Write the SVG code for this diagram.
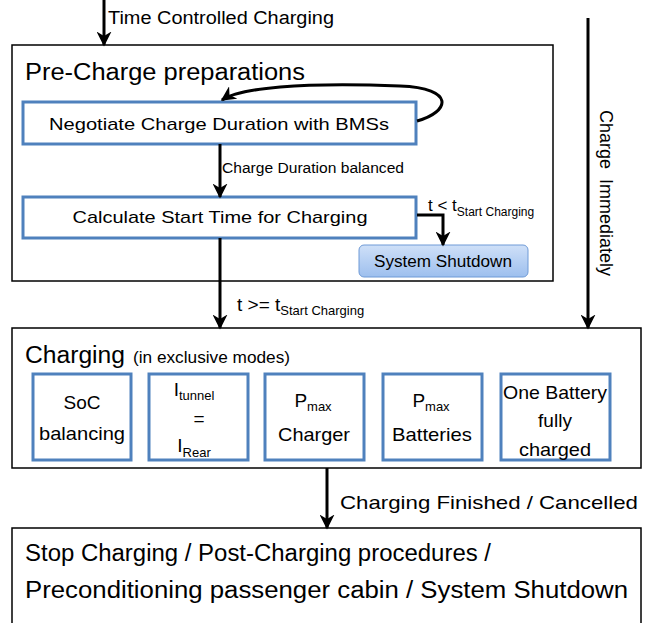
<svg xmlns="http://www.w3.org/2000/svg" width="651" height="623" viewBox="0 0 651 623">
<defs>
<marker id="ah" viewBox="0 0 10 10" refX="9" refY="5" markerWidth="5" markerHeight="5" orient="auto-start-reverse" markerUnits="strokeWidth">
<path d="M0,0 L10,5 L0,10 L3,5 Z" fill="#000"/>
</marker>
<linearGradient id="sg" x1="0" y1="0" x2="0" y2="1">
<stop offset="0" stop-color="#cfe0f8"/>
<stop offset="1" stop-color="#9dbfee"/>
</linearGradient>
</defs>
<style>
text{font-family:"Liberation Sans",Arial,sans-serif;fill:#000}
.outer{fill:#fff;stroke:#000;stroke-width:1.5}
.inner{fill:#fff;stroke:#4f81bd;stroke-width:3}
.ln{fill:none;stroke:#000;stroke-width:3;marker-end:url(#ah)}
.t18{font-size:17px}
.t20{font-size:19px}
.t24{font-size:23px}
</style>
<rect width="651" height="623" fill="#fff"/>
<g id="pre-charge">
<rect class="outer" x="12" y="45" width="541" height="236"/>
<text class="t24" x="25" y="80" textLength="280" lengthAdjust="spacingAndGlyphs">Pre-Charge preparations</text>
</g>
<g id="negotiate">
<rect class="inner" x="23" y="102" width="393" height="42"/>
<text class="t18" x="219" y="130" text-anchor="middle" textLength="340" lengthAdjust="spacingAndGlyphs">Negotiate Charge Duration with BMSs</text>
</g>
<g id="calculate">
<rect class="inner" x="23" y="197" width="393" height="41"/>
<text class="t18" x="220" y="223" text-anchor="middle" textLength="295" lengthAdjust="spacingAndGlyphs">Calculate Start Time for Charging</text>
</g>
<g id="shutdown">
<rect x="359" y="245" width="169" height="32" rx="5" fill="url(#sg)" stroke="#6f9ad6" stroke-width="1"/>
<text x="443" y="267" font-size="16" text-anchor="middle" textLength="138" lengthAdjust="spacingAndGlyphs">System Shutdown</text>
</g>
<g id="charging">
<rect class="outer" x="12" y="328" width="629" height="140"/>
<text x="25" y="363"><tspan font-size="23" textLength="100" lengthAdjust="spacingAndGlyphs">Charging</tspan></text>
<text x="133" y="363" font-size="16" textLength="157" lengthAdjust="spacingAndGlyphs">(in exclusive modes)</text>
</g>
<g id="soc">
<rect class="inner" x="33" y="374" width="98" height="86"/>
<text class="t20" x="82" y="409" text-anchor="middle">SoC</text>
<text class="t20" x="82" y="440" text-anchor="middle" textLength="86" lengthAdjust="spacingAndGlyphs">balancing</text>
</g>
<g id="itunnel">
<rect class="inner" x="149" y="374" width="99" height="86"/>
<text x="194" y="396" text-anchor="middle"><tspan font-size="19">I</tspan><tspan font-size="13" dy="4">tunnel</tspan></text>
<text class="t20" x="199" y="425" text-anchor="middle">=</text>
<text x="194" y="452" text-anchor="middle"><tspan font-size="19">I</tspan><tspan font-size="13" dy="5">Rear</tspan></text>
</g>
<g id="pmax-charger">
<rect class="inner" x="265" y="374" width="99" height="86"/>
<text x="313" y="407" text-anchor="middle"><tspan font-size="19">P</tspan><tspan font-size="13" dy="4">max</tspan></text>
<text class="t20" x="314" y="441" text-anchor="middle" textLength="72" lengthAdjust="spacingAndGlyphs">Charger</text>
</g>
<g id="pmax-batteries">
<rect class="inner" x="383" y="374" width="99" height="86"/>
<text x="431" y="407" text-anchor="middle"><tspan font-size="19">P</tspan><tspan font-size="13" dy="4">max</tspan></text>
<text class="t20" x="432" y="441" text-anchor="middle" textLength="80" lengthAdjust="spacingAndGlyphs">Batteries</text>
</g>
<g id="one-battery">
<rect class="inner" x="501" y="374" width="109" height="86"/>
<text class="t20" x="555" y="399" text-anchor="middle" textLength="104" lengthAdjust="spacingAndGlyphs">One Battery</text>
<text class="t20" x="555" y="427" text-anchor="middle">fully</text>
<text class="t20" x="555" y="456" text-anchor="middle" textLength="72" lengthAdjust="spacingAndGlyphs">charged</text>
</g>
<g id="post-charging">
<rect class="outer" x="12" y="528" width="629" height="100"/>
<text class="t24" x="25" y="561" textLength="466" lengthAdjust="spacingAndGlyphs">Stop Charging / Post-Charging procedures /</text>
<text class="t24" x="25" y="598" textLength="603" lengthAdjust="spacingAndGlyphs">Preconditioning passenger cabin / System Shutdown</text>
</g>
<g id="connectors">
<path class="ln" d="M104,0 V45"/>
<text x="108" y="24" font-size="18" textLength="226" lengthAdjust="spacingAndGlyphs">Time Controlled Charging</text>
<path class="ln" d="M588,18 V328"/>
<text font-size="18" transform="translate(600,110) rotate(90)" xml:space="preserve" textLength="166" lengthAdjust="spacingAndGlyphs">Charge  Immediately</text>
<path class="ln" d="M417,121 C450,112 456,88 400,86 C300,82 240,88 222,100"/>
<path class="ln" d="M220,144 V197"/>
<text x="222" y="173" font-size="14" textLength="182" lengthAdjust="spacingAndGlyphs">Charge Duration balanced</text>
<path class="ln" d="M220,238 V328"/>
<text x="237" y="311"><tspan font-size="19">t &gt;= t</tspan><tspan font-size="13" dy="4">Start Charging</tspan></text>
<path class="ln" d="M417,215 H443 V245"/>
<text x="428" y="211"><tspan font-size="17">t &lt; t</tspan><tspan font-size="12" dy="5">Start Charging</tspan></text>
<path class="ln" d="M327,468 V528"/>
<text x="340" y="509" font-size="19" textLength="298" lengthAdjust="spacingAndGlyphs">Charging Finished / Cancelled</text>
</g>
</svg>
